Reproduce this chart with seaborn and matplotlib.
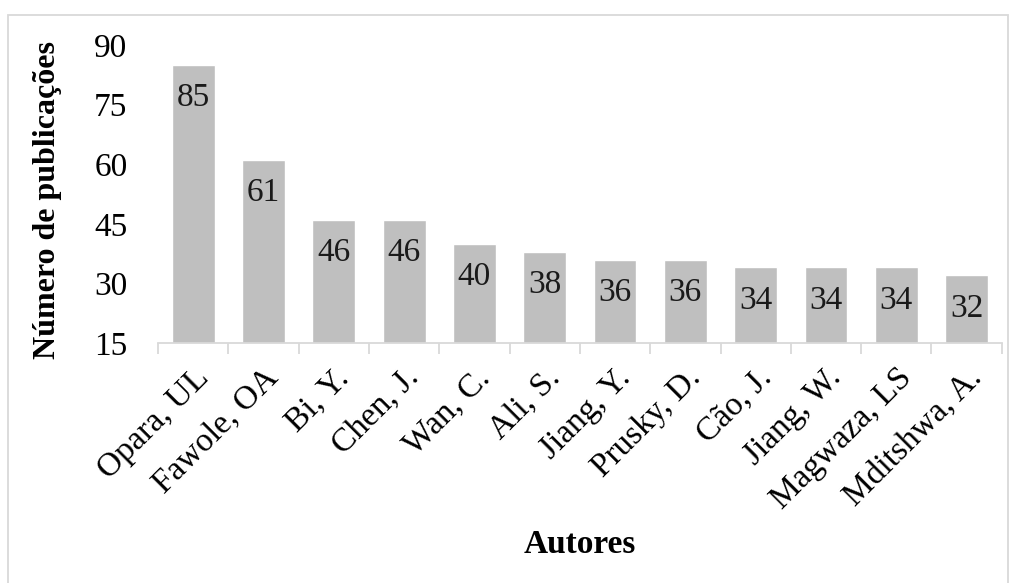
import numpy as np
import pandas as pd
import seaborn as sns
import matplotlib.pyplot as plt
from matplotlib.patches import Rectangle

autores = ["Opara, UL", "Fawole, OA", "Bi, Y.", "Chen, J.", "Wan, C.", "Ali, S.",
           "Jiang, Y.", "Prusky, D.", "Cão, J.", "Jiang, W.", "Magwaza, LS", "Mditshwa, A."]
publicacoes = [85, 61, 46, 46, 40, 38, 36, 36, 34, 34, 34, 32]
y_ticks = [15, 30, 45, 60, 75, 90]

sns.set_theme(style="white")
plt.rcParams['font.family'] = ['Liberation Serif', 'DejaVu Serif']

df = pd.DataFrame({"autor": autores, "n": publicacoes})

fig = plt.figure(figsize=(10.16, 5.83), dpi=100)
ax = fig.add_axes([0.1555, 0.4117, 0.8305, 0.5111])

sns.barplot(data=df, x="autor", y="n", color="#BFBFBF", width=0.61,
            saturation=1, ax=ax)

ax.set_ylim(15, 90)
ax.set_yticks(y_ticks)
ax.set_xlim(-0.5, len(autores) - 0.5)

fs = 24
for i, v in enumerate(publicacoes):
    ax.annotate(str(v), (i, v), xytext=(0, -33), textcoords="offset pixels",
                ha="center", va="center", fontsize=fs, color="#1a1a1a")

for s in ["top", "right", "left"]:
    ax.spines[s].set_visible(False)
ax.spines["bottom"].set_color("#D9D9D9")
ax.spines["bottom"].set_linewidth(1.3)

ax.set_xticks(np.arange(len(autores)))
ax.set_xticklabels(autores, rotation=45, ha="right", rotation_mode="anchor",
                   fontsize=fs, color="black")
ax.set_xticks(np.arange(-0.5, len(autores)), minor=True)
ax.tick_params(axis="x", which="major", length=0, pad=14)
ax.tick_params(axis="x", which="minor", length=8, width=1.3, color="#D9D9D9", bottom=True)
ax.tick_params(axis="y", length=0, pad=22, labelsize=fs, labelcolor="black")

ax.set_xlabel("Autores", fontsize=fs, fontweight="bold", color="black")
ax.set_ylabel("Número de publicações", fontsize=23, fontweight="bold", color="black")
ax.xaxis.set_label_coords(0.5, -0.625)
ax.yaxis.set_label_coords(-0.114, 0.48)

fig.patches.append(Rectangle((8 / 1016, -0.05), 1000 / 1016, 1 - 15 / 583 + 0.05,
                             transform=fig.transFigure, fill=False,
                             edgecolor="#D9D9D9", linewidth=1.3))

fig.savefig("out.png", dpi=100)
